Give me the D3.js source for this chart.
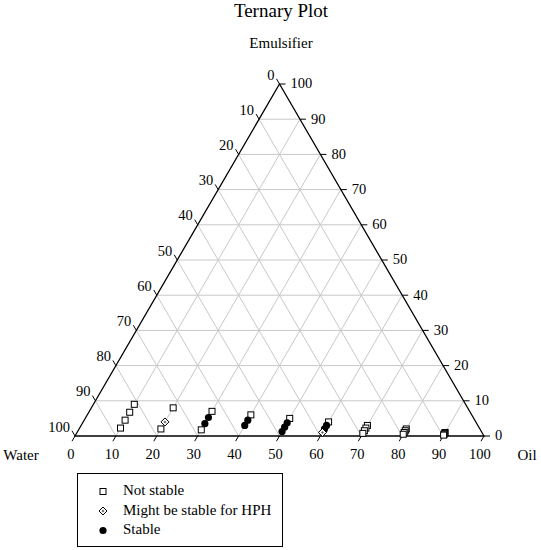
<!DOCTYPE html>
<html>
<head>
<meta charset="utf-8">
<script src="https://cdn.jsdelivr.net/npm/d3@7"></script>
<style>
  body { margin: 0; background: #fff; }
  svg text { font-family: "Liberation Serif", "DejaVu Serif", serif; fill: #000; }
</style>
</head>
<body>
<div id="chart"></div>
<script>
// compositions in % (oil + emulsifier + water = 100)
var oil =        [10, 10, 10, 10,  20, 20, 20,  30, 30, 30, 30,  40, 40, 40,  50, 50, 50, 50,  60, 60, 60, 60,  70, 70, 70, 70,  80, 80, 80, 80,  90, 90, 90, 90];
var emulsifier = [9, 6.75, 4.5, 2.25,  8, 4, 2,  7, 5.25, 3.5, 1.75,  6, 4.5, 3,  5, 3.75, 2.5, 1.25,  4, 3, 2, 1,  3, 2.25, 1.5, 0.75,  2, 1.5, 1, 0.5,  1, 0.75, 0.5, 0.25];
var water =      [81, 83.25, 85.5, 87.75,  72, 76, 78,  63, 64.75, 66.5, 68.25,  54, 55.5, 57,  45, 46.25, 47.5, 48.75,  36, 37, 38, 39,  27, 27.75, 28.5, 29.25,  18, 18.5, 19, 19.5,  9, 9.25, 9.5, 9.75];
// n = not stable, m = might be stable for HPH, s = stable
var stability =  ["n","n","n","n", "n","m","n", "n","s","s","n", "n","s","s", "n","s","s","s", "n","s","s","m", "n","n","n","n", "n","n","n","n", "n","n","n","n"];

var ticks = [0, 10, 20, 30, 40, 50, 60, 70, 80, 90, 100];
var legendLabels = { n: "Not stable", m: "Might be stable for HPH", s: "Stable" };
var legendOrder = ["n", "m", "s"];

var width = 541, height = 550;
var left = 75, right = 484, base = 436, apexY = 84;

var svg = d3.select("#chart").append("svg")
    .attr("width", width)
    .attr("height", height);

// x from (oil + emulsifier/2), y from emulsifier
var xScale = d3.scaleLinear().domain([0, 100]).range([left, right]);
var yScale = d3.scaleLinear().domain([0, 100]).range([base, apexY]);

function px(o, e) { return xScale(o + e / 2); }
function py(o, e) { return yScale(e); }

// grid
var grid = [];
ticks.slice(1, -1).forEach(function (k) {
    grid.push([[0, k], [100 - k, k]]);          // emulsifier const
    grid.push([[k, 0], [k, 100 - k]]);          // oil const
    grid.push([[100 - k, 0], [0, 100 - k]]);    // water const
});

svg.append("g").selectAll("line")
    .data(grid)
    .enter().append("line")
    .attr("x1", function (d) { return px(d[0][0], d[0][1]); })
    .attr("y1", function (d) { return py(d[0][0], d[0][1]); })
    .attr("x2", function (d) { return px(d[1][0], d[1][1]); })
    .attr("y2", function (d) { return py(d[1][0], d[1][1]); })
    .style("stroke", "#c8c8c8")
    .style("stroke-width", 1);

// frame
svg.append("path")
    .attr("d", "M" + px(0, 0) + "," + py(0, 0) + "L" + px(100, 0) + "," + py(100, 0) +
        "L" + px(0, 100) + "," + py(0, 100) + "Z")
    .style("fill", "none")
    .style("stroke", "#000")
    .style("stroke-width", 1.3);

var tl = 6;
var ux = (left - (left + right) / 2), uy = (base - apexY);
var un = Math.sqrt(ux * ux + uy * uy);
ux = ux / un; uy = uy / un; // direction down-left, along left edge

// bottom axis: oil
var gb = svg.append("g");
ticks.forEach(function (k) {
    var x = px(k, 0), y = py(k, 0);
    gb.append("line").attr("x1", x).attr("y1", y)
        .attr("x2", x + ux * tl).attr("y2", y + uy * tl)
        .style("stroke", "#000");
    gb.append("text").attr("x", x + ux * tl - 1).attr("y", y + 20)
        .attr("text-anchor", "middle").attr("dominant-baseline", "middle")
        .style("font-size", "14.5px").text(k);
});

// left axis: water (0 at top)
var gl = svg.append("g");
ticks.forEach(function (k) {
    var x = px(0, 100 - k), y = py(0, 100 - k);
    var x2 = x + ux * tl, y2 = y - uy * tl;
    gl.append("line").attr("x1", x).attr("y1", y).attr("x2", x2).attr("y2", y2)
        .style("stroke", "#000");
    gl.append("text").attr("x", x2 - 2).attr("y", y2 - 2.5)
        .attr("text-anchor", "end").attr("dominant-baseline", "middle")
        .style("font-size", "14.5px").text(k);
});

// right axis: emulsifier (0 at bottom)
var gr = svg.append("g");
ticks.forEach(function (k) {
    var x = px(100 - k, k), y = py(100 - k, k);
    gr.append("line").attr("x1", x).attr("y1", y).attr("x2", x + tl).attr("y2", y)
        .style("stroke", "#000");
    gr.append("text").attr("x", x + tl + 5).attr("y", y + 1)
        .attr("text-anchor", "start").attr("dominant-baseline", "middle")
        .style("font-size", "14.5px").text(k);
});

// titles
svg.append("text").attr("x", 281).attr("y", 13).attr("text-anchor", "middle")
    .attr("dominant-baseline", "middle").style("font-size", "19px").text("Ternary Plot");
svg.append("text").attr("x", 281).attr("y", 45).attr("text-anchor", "middle")
    .attr("dominant-baseline", "middle").style("font-size", "15px").text("Emulsifier");
svg.append("text").attr("x", 21).attr("y", 457).attr("text-anchor", "middle")
    .attr("dominant-baseline", "middle").style("font-size", "15px").text("Water");
svg.append("text").attr("x", 527).attr("y", 457).attr("text-anchor", "middle")
    .attr("dominant-baseline", "middle").style("font-size", "15px").text("Oil");

// markers
function drawMarker(g, type) {
    if (type === "n") {
        g.append("rect").attr("x", -3).attr("y", -3).attr("width", 6).attr("height", 6)
            .style("fill", "#fff").style("stroke", "#000").style("stroke-width", 1);
    } else if (type === "m") {
        g.append("path").attr("d", "M0,-4L4,0L0,4L-4,0Z")
            .style("fill", "#fff").style("stroke", "#000").style("stroke-width", 1);
        g.append("path").attr("d", "M0,-1.5L1.5,0L0,1.5L-1.5,0Z")
            .style("fill", "#666").style("stroke", "none");
    } else {
        g.append("circle").attr("r", 3.6).style("fill", "#000");
    }
}

var points = oil.map(function (o, i) {
    return { oil: o, emul: emulsifier[i], water: water[i], type: stability[i] };
});

svg.append("g").selectAll(".dot")
    .data(points)
    .enter().append("g")
    .attr("class", "dot")
    .attr("transform", function (d) {
        return "translate(" + px(d.oil, d.emul) + "," + py(d.oil, d.emul) + ")";
    })
    .each(function (d) { drawMarker(d3.select(this), d.type); });

// legend
var legend = svg.append("g");
legend.append("rect").attr("x", 77.5).attr("y", 473.5).attr("width", 205).attr("height", 73)
    .style("fill", "#fff").style("stroke", "#000").style("stroke-width", 1);
legendOrder.forEach(function (s, i) {
    var y = 491.5 + i * 19.5;
    drawMarker(legend.append("g").attr("transform", "translate(103," + y + ")"), s);
    legend.append("text").attr("x", 123).attr("y", y + 0.5)
        .attr("dominant-baseline", "middle").style("font-size", "15px")
        .text(legendLabels[s]);
});
</script>
</body>
</html>
